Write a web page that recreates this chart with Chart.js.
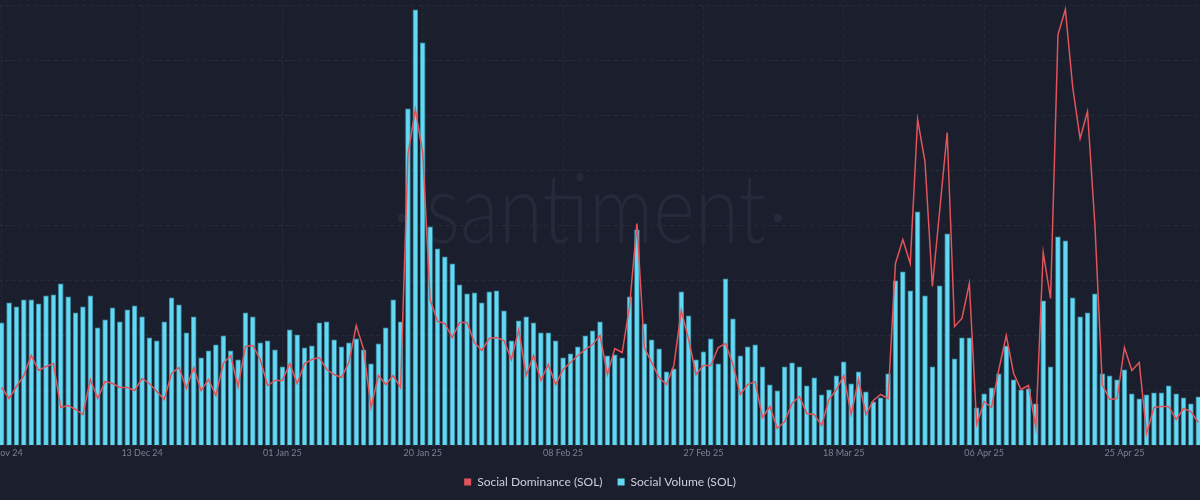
<!DOCTYPE html>
<html><head><meta charset="utf-8">
<script src="https://cdn.jsdelivr.net/npm/chart.js@4.4.1/dist/chart.umd.min.js"></script>
<style>
html,body{margin:0;padding:0;background:#1b1e2c;overflow:hidden;width:1200px;height:500px;}
#wrap{position:absolute;left:-2px;top:0;width:1204px;height:500px;}
</style></head><body>
<div id="wrap"><canvas id="c"></canvas></div>
<script>
// Daily categories: 24 Nov 2024 .. 05 May 2025
const firstDay = [2024, 10, 24];
const dayCount = 163;
const categories = [];
for (let i = 0; i < dayCount; i++) {
  categories.push(new Date(Date.UTC(firstDay[0], firstDay[1], firstDay[2] + i)).toISOString().slice(0, 10));
}
const tickDates  = ['2024-11-24','2024-12-13','2025-01-01','2025-01-20','2025-02-08','2025-02-27','2025-03-18','2025-04-06','2025-04-25'];
const tickLabels = ['24 Nov 24','13 Dec 24','01 Jan 25','20 Jan 25','08 Feb 25','27 Feb 25','18 Mar 25','06 Apr 25','25 Apr 25'];

// Values (unlabelled axes, arbitrary units: axis 0..440)
const socialVolume = [
  123,143,139,146,146,142,150,151,162,149,
  133,139,150,118,126,138,124,136,140,129,
  108,105,124,148,141,113,129,88,95,101,
  110,95,86,133,129,103,105,96,79,116,
  111,98,100,123,124,106,99,103,107,96,
  82,102,118,146,124,337,436,403,219,197,
  189,182,161,152,153,143,154,155,135,105,
  125,129,123,113,113,105,88,92,99,110,
  115,124,90,91,88,149,216,122,106,97,
  74,77,154,130,86,94,107,82,167,127,
  90,99,101,79,61,55,79,83,79,60,
  68,51,56,70,84,62,74,54,44,48,
  72,165,174,155,234,150,79,160,212,87,
  108,108,38,52,58,72,100,66,56,57,
  42,145,79,209,205,148,129,133,152,72,
  70,66,76,52,47,51,53,53,60,52,
  48,42,49
];
const socialDominance = [
  58,47,59,70,90,75,79,82,38,40,
  36,31,66,47,64,62,58,58,55,67,
  62,54,46,72,78,57,78,55,66,50,
  82,90,59,99,100,86,60,65,65,82,
  62,82,86,88,76,71,68,83,120,96,
  38,70,61,70,58,291,336,293,146,124,
  122,108,123,123,103,95,107,108,105,86,
  116,70,90,65,81,61,76,83,90,96,
  101,110,71,97,93,139,222,98,83,68,
  61,80,135,106,71,80,80,98,102,81,
  51,61,64,28,39,17,24,42,49,32,
  31,20,46,56,70,31,66,31,45,51,
  47,182,206,182,326,284,159,236,313,119,
  127,162,21,44,38,76,110,72,56,60,
  18,193,147,411,436,358,307,334,221,61,
  46,47,98,75,83,12,38,39,39,26,
  37,34,23
];

const gridColor = 'rgba(255,255,255,0.055)';

const watermark = {
  id: 'watermark',
  beforeDatasetsDraw(chart) {
    const ctx = chart.ctx;
    const off = 2; // canvas is shifted 2px left of the page
    ctx.save();
    ctx.fillStyle = '#252939';
    ctx.font = '300 96px Lato';
    ctx.textBaseline = 'alphabetic';
    ctx.textAlign = 'center';
    const w = ctx.measureText('santiment').width;
    const targetW = 340;
    ctx.translate(596 + off, 243);
    ctx.scale(targetW / w, 1);
    ctx.fillText('santiment', 0, 0);
    ctx.restore();
    ctx.save();
    ctx.fillStyle = '#252939';
    [402, 778].forEach(x => { ctx.beginPath(); ctx.arc(x + off, 218, 4.5, 0, Math.PI * 2); ctx.fill(); });
    ctx.restore();
  }
};

new Chart(document.getElementById('c'), {
  type: 'bar',
  data: {
    labels: categories,
    datasets: [
      {
        type: 'line', label: 'Social Dominance (SOL)', data: socialDominance, yAxisID: 'yDom',
        borderColor: '#e2545a', backgroundColor: '#e2545a', borderWidth: 1.5,
        pointRadius: 0, tension: 0, order: 0
      },
      {
        type: 'bar', label: 'Social Volume (SOL)', data: socialVolume, yAxisID: 'yVol',
        backgroundColor: '#62d8f2', borderColor: '#3aa3bd', borderWidth: 0.8, borderSkipped: 'start',
        barPercentage: 0.74, categoryPercentage: 1, order: 1
      }
    ]
  },
  options: {
    responsive: true, maintainAspectRatio: false, animation: false,
    layout: { padding: { top: 5.5, bottom: 2, left: 0, right: 0 } },
    plugins: {
      tooltip: { enabled: false },
      legend: {
        position: 'bottom',
        labels: {
          color: '#cdd0d9', boxWidth: 7, boxHeight: 7, padding: 15,
          font: { family: 'Lato', size: 12 },
          generateLabels(chart) {
            return Chart.defaults.plugins.legend.labels.generateLabels(chart).map(l => Object.assign(l, { lineWidth: 0 }));
          }
        }
      }
    },
    scales: {
      x: {
        offset: true,
        grid: {
          offset: false, drawTicks: false,
          color: c => tickDates.includes(categories[c.index]) ? gridColor : 'rgba(0,0,0,0)'
        },
        border: { display: false, dash: [4, 3] },
        ticks: {
          autoSkip: false, maxRotation: 0, padding: 2.5, color: '#7b8092',
          font: { family: 'Lato', size: 9 },
          callback: (v, i) => { const k = tickDates.indexOf(categories[i]); return k >= 0 ? tickLabels[k] : ''; }
        },
        afterFit: s => { s.paddingLeft = 0; s.paddingRight = 0; s.height = 15.5; }
      },
      yVol: {
        position: 'left', min: 0, max: 440,
        ticks: { display: false, stepSize: 55 },
        grid: { color: gridColor, drawTicks: false },
        border: { display: false, dash: [4, 3] }
      },
      yDom: {
        position: 'right', display: false, min: 0, max: 440
      }
    }
  },
  plugins: [watermark]
});
</script>
</body></html>
